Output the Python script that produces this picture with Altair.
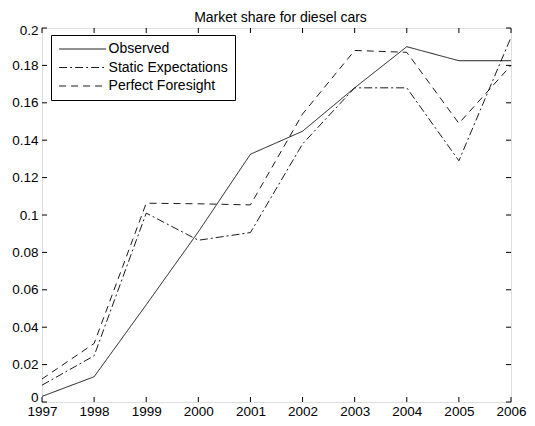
import altair as alt
import pandas as pd

years = [1997, 1998, 1999, 2000, 2001, 2002, 2003, 2004, 2005, 2006]
observed = [0.003, 0.0135, 0.052, 0.091, 0.1325, 0.1448, 0.168, 0.190, 0.1825, 0.1825]
static = [0.009, 0.0247, 0.101, 0.0865, 0.0906, 0.138, 0.168, 0.168, 0.129, 0.195]
perfect = [0.0123, 0.0313, 0.1063, 0.106, 0.1054, 0.154, 0.188, 0.187, 0.149, 0.180]
series_names = ["Observed", "Static Expectations", "Perfect Foresight"]
y_ticks = [0, 0.02, 0.04, 0.06, 0.08, 0.1, 0.12, 0.14, 0.16, 0.18, 0.2]
x_ticks = years

rows = []
for name, vals in zip(series_names, [observed, static, perfect]):
    for yr, v in zip(years, vals):
        rows.append({"year": yr, "share": v, "series": name})
df = pd.DataFrame(rows)
df_y = pd.DataFrame({"v": y_ticks})
df_x = pd.DataFrame({"yr": x_ticks})

W, H = 469, 374
FONT = "Liberation Sans"
TL = 5
TICKFS = 13.5

xscale = alt.Scale(domain=[1997, 2006], nice=False, zero=False)
yscale = alt.Scale(domain=[0, 0.2], nice=False, zero=False)
xaxis = alt.Axis(values=x_ticks, format="d", title=None, ticks=False, tickSize=0,
                 grid=False, domain=False, labelFontSize=TICKFS, labelPadding=2,
                 labelFont=FONT, labelColor="black", labelFlush=False)
yaxis = alt.Axis(values=y_ticks, format=".2~f", title=None, ticks=False, tickSize=0,
                 grid=False, domain=False, labelFontSize=TICKFS, labelPadding=4,
                 labelFont=FONT, labelColor="black", labelFlush=False,
                 labelOffset={"condition": [{"test": "datum.value == 0", "value": -5},
                                            {"test": "datum.value == 0.2", "value": 2}],
                              "value": 0})

lines = alt.Chart(df).mark_line(color="black", strokeWidth=0.9).encode(
    x=alt.X("year:Q", scale=xscale, axis=xaxis),
    y=alt.Y("share:Q", scale=yscale, axis=yaxis),
    strokeDash=alt.StrokeDash(
        "series:N",
        scale=alt.Scale(domain=series_names, range=[[1, 0], [8, 3, 2, 3], [7, 5]]),
        legend=alt.Legend(orient="none", legendX=9, legendY=7, title=None,
                          strokeColor="black", fillColor="white", padding=7,
                          symbolType="M-4,0H4", symbolSize=138, symbolOffset=17.6,
                          symbolStrokeWidth=0.9, symbolStrokeColor="black",
                          labelOffset=19, labelFontSize=14, labelFont=FONT,
                          labelColor="black", rowPadding=4.5, labelLimit=0),
    ),
)

left_ticks = alt.Chart(df_y).mark_rule(color="black", strokeWidth=1).encode(
    y=alt.Y("v:Q", scale=yscale, axis=yaxis), x=alt.value(0), x2=alt.value(TL))
right_ticks = alt.Chart(df_y).mark_rule(color="black", strokeWidth=1).encode(
    y=alt.Y("v:Q", scale=yscale, axis=yaxis), x=alt.value(W - TL), x2=alt.value(W))
bottom_ticks = alt.Chart(df_x).mark_rule(color="black", strokeWidth=1).encode(
    x=alt.X("yr:Q", scale=xscale, axis=xaxis), y=alt.value(H), y2=alt.value(H - TL))
top_ticks = alt.Chart(df_x).mark_rule(color="black", strokeWidth=1).encode(
    x=alt.X("yr:Q", scale=xscale, axis=xaxis), y=alt.value(0), y2=alt.value(TL))

chart = alt.layer(left_ticks, right_ticks, bottom_ticks, top_ticks, lines).properties(
    width=W, height=H,
    title=alt.Title("Market share for diesel cars", fontSize=14, font=FONT,
                    fontWeight="normal", color="black", offset=-2, dx=4),
    autosize=alt.AutoSizeParams(type="none"),
    padding={"left": 34, "top": 20, "right": 16, "bottom": 16},
).configure_view(stroke="black", strokeWidth=1).configure(background="white")

chart.save("out.html", embed_options={"renderer": "svg", "actions": False})
